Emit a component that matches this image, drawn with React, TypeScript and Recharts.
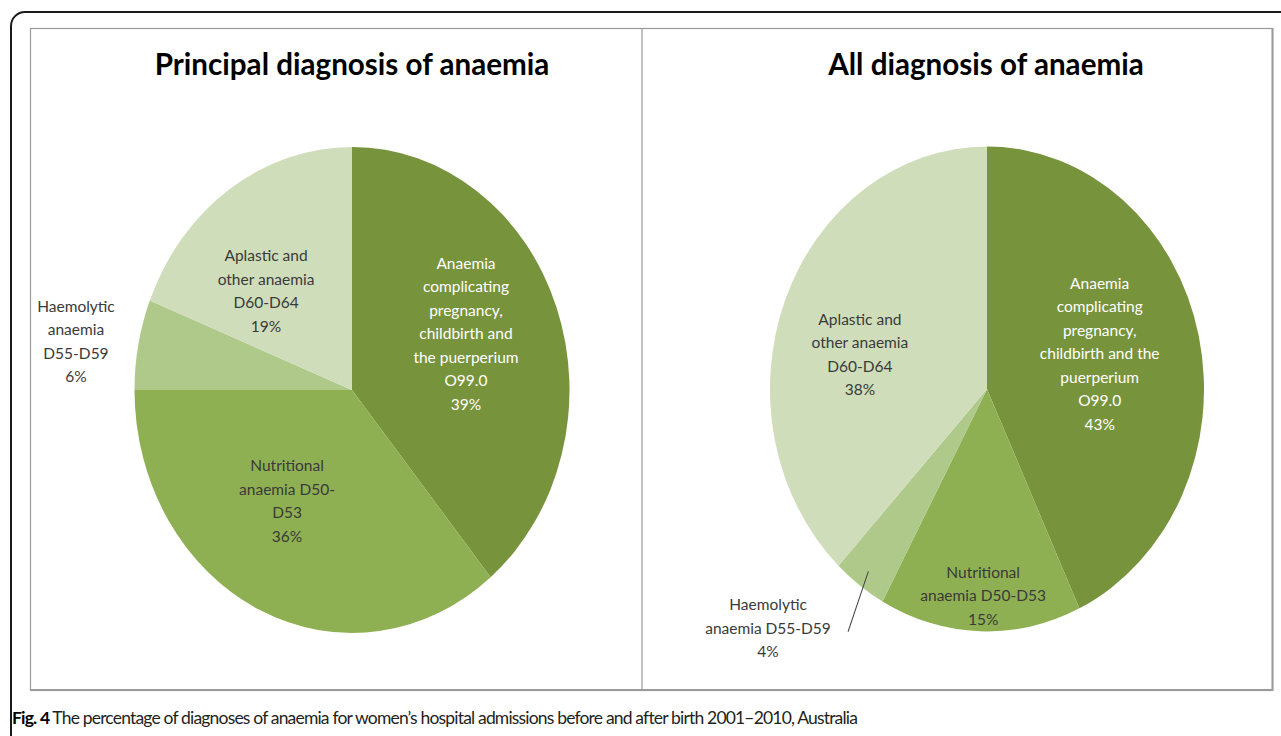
import React from "react";
import { PieChart, Pie, Cell } from "recharts";

// ---------- data ----------
const categories = [
  "Anaemia complicating pregnancy, childbirth and the puerperium O99.0",
  "Nutritional anaemia D50-D53",
  "Haemolytic anaemia D55-D59",
  "Aplastic and other anaemia D60-D64",
];
const principalValues = [39, 36, 6, 19];
const allValues = [43, 15, 4, 38];
const sliceColors = ["#77933C", "#8FB052", "#AEC98A", "#D0DDBA"];
const labelColors = ["#FFFFFF", "#3A3A3A", "#3A3A3A", "#3A3A3A"];

const principalLabelLines = [
  ["Anaemia", "complicating", "pregnancy,", "childbirth and", "the puerperium", "O99.0"],
  ["Nutritional", "anaemia D50-", "D53"],
  ["Haemolytic", "anaemia", "D55-D59"],
  ["Aplastic and", "other anaemia", "D60-D64"],
];
const allLabelLines = [
  ["Anaemia", "complicating", "pregnancy,", "childbirth and the", "puerperium", "O99.0"],
  ["Nutritional", "anaemia D50-D53"],
  ["Haemolytic", "anaemia D55-D59"],
  ["Aplastic and", "other anaemia", "D60-D64"],
];

const principalTitle = "Principal diagnosis of anaemia";
const allTitle = "All diagnosis of anaemia";
const captionBold = "Fig. 4";
const captionText =
  " The percentage of diagnoses of anaemia for women\u2019s hospital admissions before and after birth 2001\u20132010, Australia";

// ---------- label layout (polar: radius ratio, angle offset in degrees) ----------
const principalLabelRadius = [0.574, 0.544, 1.285, 0.569];
const principalLabelShift = [-4.3, 8.1, -1.8, -9.8];
const allLabelRadius = [0.54, 0.85, 1.41, 0.603];
const allLabelShift = [-3.3, -0.6, 9.7, -7.8];
const allLeaderLine = [false, false, true, false];

const STRETCH = 243 / 217.5; // vertical ellipse stretch of the original pies
const LINE_H = 23.5;
const FONT = "Lato, 'Noto Sans', sans-serif";

function makeData(values: number[], lines: string[][]) {
  return categories.map((name, i) => ({ name, value: values[i], lines: lines[i] }));
}

function makeLabel(radius: number[], shift: number[], leader: boolean[] | null) {
  return (props: any) => {
    const { cx, cy, midAngle, outerRadius, index, payload, value } = props;
    const deg = midAngle - shift[index];
    const rad = (deg * Math.PI) / 180;
    const r = outerRadius * radius[index];
    const x = cx + r * Math.cos(rad);
    const y = cy - r * Math.sin(rad);
    const lines: string[] = [...(payload?.lines ?? []), `${value}%`];
    const n = lines.length;
    let leaderEl = null;
    if (leader && leader[index]) {
      const mrad = (midAngle * Math.PI) / 180;
      const sx = cx + outerRadius * 0.93 * Math.cos(mrad);
      const sy = cy - outerRadius * 0.93 * Math.sin(mrad);
      const ex = x + 80;
      const ey = y + 4 / STRETCH;
      leaderEl = <line x1={sx} y1={sy} x2={ex} y2={ey} stroke="#404040" strokeWidth={1} />;
    }
    return (
      <g key={`lbl-${index}`}>
        {leaderEl}
        <g transform={`translate(${x},${y}) scale(1,${1 / STRETCH})`}>
          <text
            textAnchor="middle"
            fontFamily={FONT}
            fontSize={15.5}
            fill={labelColors[index]}
          >
            {lines.map((ln, i) => (
              <tspan key={i} x={0} y={(i - (n - 1) / 2) * LINE_H} dominantBaseline="central">
                {ln}
              </tspan>
            ))}
          </text>
        </g>
      </g>
    );
  };
}

function PiePanel(props: {
  left: number;
  top: number;
  width: number;
  height: number;
  cx: number;
  cy: number;
  r: number;
  data: any[];
  label: any;
}) {
  const { left, top, width, height, cx, cy, r, data, label } = props;
  return (
    <div
      style={{
        position: "absolute",
        left,
        top,
        width,
        height,
        transform: `scaleY(${STRETCH})`,
        transformOrigin: `${cx}px ${cy}px`,
      }}
    >
      <PieChart width={width} height={height} margin={{ top: 0, right: 0, bottom: 0, left: 0 }}>
        <Pie
          data={data}
          dataKey="value"
          nameKey="name"
          cx={cx}
          cy={cy}
          outerRadius={r}
          startAngle={90}
          endAngle={-270}
          stroke="none"
          isAnimationActive={false}
          label={label}
          labelLine={false}
        >
          {data.map((_, i) => (
            <Cell key={i} fill={sliceColors[i]} />
          ))}
        </Pie>
      </PieChart>
    </div>
  );
}

export default function App() {
  const principalData = makeData(principalValues, principalLabelLines);
  const allData = makeData(allValues, allLabelLines);
  return (
    <div
      style={{
        position: "absolute",
        left: 0,
        top: 0,
        width: 1281,
        height: 736,
        overflow: "hidden",
        background: "#FFFFFF",
      }}
    >
      <svg width={1281} height={736} style={{ position: "absolute", left: 0, top: 0 }}>
        <rect x={11} y={12} width={1300} height={740} rx={14} ry={14} fill="none" stroke="#1A1A1A" strokeWidth={2} />
        <rect x={30.5} y={28.5} width={1242} height={662} fill="none" stroke="#9A9A9A" strokeWidth={1.2} />
        <line x1={1272.5} y1={28} x2={1272.5} y2={691} stroke="#9A9A9A" strokeWidth={2} />
        <line x1={30} y1={690} x2={1273} y2={690} stroke="#9A9A9A" strokeWidth={2} />
        <line x1={642} y1={28} x2={642} y2={690} stroke="#9A9A9A" strokeWidth={1.2} />
        <text x={352} y={75} textAnchor="middle" fontFamily={FONT} fontWeight={700} fontSize={29.6} fill="#000000">
          {principalTitle}
        </text>
        <text x={986} y={75} textAnchor="middle" fontFamily={FONT} fontWeight={700} fontSize={29.6} fill="#000000">
          {allTitle}
        </text>
        <text x={12} y={724} fontFamily={FONT} fontSize={17.5} letterSpacing={-0.82} fill="#231F20">
          <tspan fontWeight={700} fill="#000000">{captionBold}</tspan>
          <tspan>{captionText}</tspan>
        </text>
      </svg>
      <PiePanel
        left={30}
        top={28}
        width={612}
        height={662}
        cx={322}
        cy={362}
        r={217.5}
        data={principalData}
        label={makeLabel(principalLabelRadius, principalLabelShift, null)}
      />
      <PiePanel
        left={642}
        top={28}
        width={631}
        height={662}
        cx={345}
        cy={361}
        r={217}
        data={allData}
        label={makeLabel(allLabelRadius, allLabelShift, allLeaderLine)}
      />
    </div>
  );
}
